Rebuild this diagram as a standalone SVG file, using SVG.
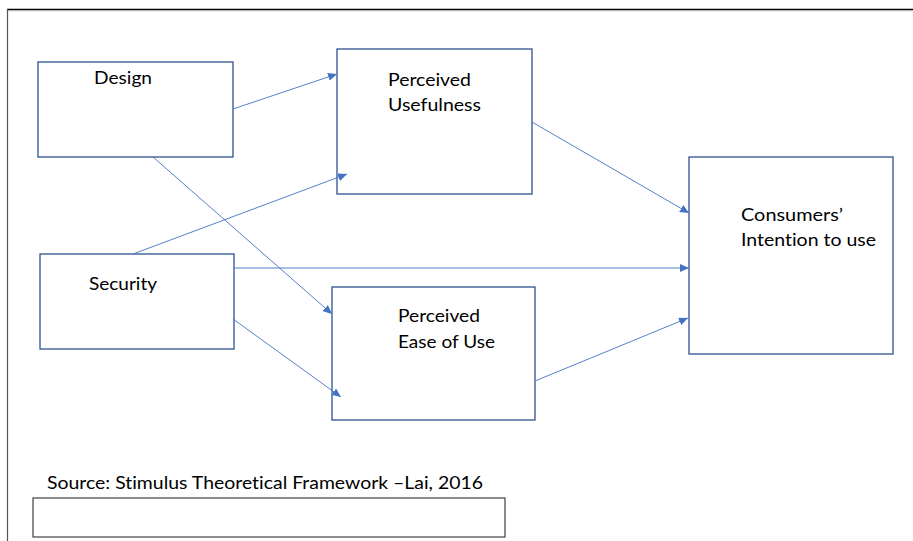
<svg xmlns="http://www.w3.org/2000/svg" width="913" height="541" viewBox="0 0 913 541">
<style>
.box{fill:#fff;stroke:#2F528F;stroke-width:1.3}
.lbl{font-family:Lato,"Open Sans","Liberation Sans",sans-serif;font-size:18px;fill:#000;font-variant-ligatures:none}
.con{stroke:#4472C4;stroke-width:0.9;fill:none;marker-end:url(#ah)}
</style>
<defs>
<marker id="ah" markerUnits="userSpaceOnUse" markerWidth="10" markerHeight="8" refX="9" refY="4" orient="auto">
<path d="M0,0 L9,4 L0,8 Z" fill="#4472C4"/>
</marker>
</defs>
<rect width="913" height="541" fill="#fff"/>
<g id="frame">
<line x1="7" y1="9.5" x2="913" y2="9.5" stroke="#000" stroke-width="1.6"/>
<line x1="7" y1="10.8" x2="913" y2="10.8" stroke="#bbb" stroke-width="1"/>
<line x1="7.5" y1="9" x2="7.5" y2="541" stroke="#555" stroke-width="1.2"/>
</g>
<g id="design">
<rect class="box" x="38" y="62" width="195" height="95"/>
<text class="lbl" x="94" y="84" textLength="58" lengthAdjust="spacingAndGlyphs">Design</text>
</g>
<g id="perceived-usefulness">
<rect class="box" x="337" y="49" width="195" height="145"/>
<text class="lbl" x="388" y="86" textLength="83" lengthAdjust="spacingAndGlyphs">Perceived</text>
<text class="lbl" x="388" y="111" textLength="93" lengthAdjust="spacingAndGlyphs">Usefulness</text>
</g>
<g id="security">
<rect class="box" x="40" y="254" width="194" height="95"/>
<text class="lbl" x="89" y="290" textLength="68" lengthAdjust="spacingAndGlyphs">Security</text>
</g>
<g id="perceived-ease">
<rect class="box" x="332" y="287" width="203" height="133"/>
<text class="lbl" x="398" y="322" textLength="82" lengthAdjust="spacingAndGlyphs">Perceived</text>
<text class="lbl" x="398" y="348" textLength="97" lengthAdjust="spacingAndGlyphs">Ease of Use</text>
</g>
<g id="intention">
<rect class="box" x="689" y="157" width="204" height="197"/>
<text class="lbl" x="741" y="221" textLength="102" lengthAdjust="spacingAndGlyphs">Consumers’</text>
<text class="lbl" x="741" y="246" textLength="135" lengthAdjust="spacingAndGlyphs">Intention to use</text>
</g>
<g id="source">
<text class="lbl" x="47" y="489" textLength="436" lengthAdjust="spacingAndGlyphs">Source: Stimulus Theoretical Framework –Lai, 2016</text>
<rect x="33" y="498" width="472" height="39" fill="#fff" stroke="#404040" stroke-width="1.2"/>
</g>
<g id="connectors">
<line class="con" x1="233" y1="109" x2="337" y2="74"/>
<line class="con" x1="153" y1="157" x2="332" y2="314"/>
<line class="con" x1="133" y1="254" x2="347" y2="174"/>
<line class="con" x1="234" y1="268" x2="689" y2="268"/>
<line class="con" x1="233" y1="319" x2="341" y2="397"/>
<line class="con" x1="532" y1="122" x2="689" y2="213"/>
<line class="con" x1="535" y1="381" x2="688" y2="318"/>
</g>
</svg>
